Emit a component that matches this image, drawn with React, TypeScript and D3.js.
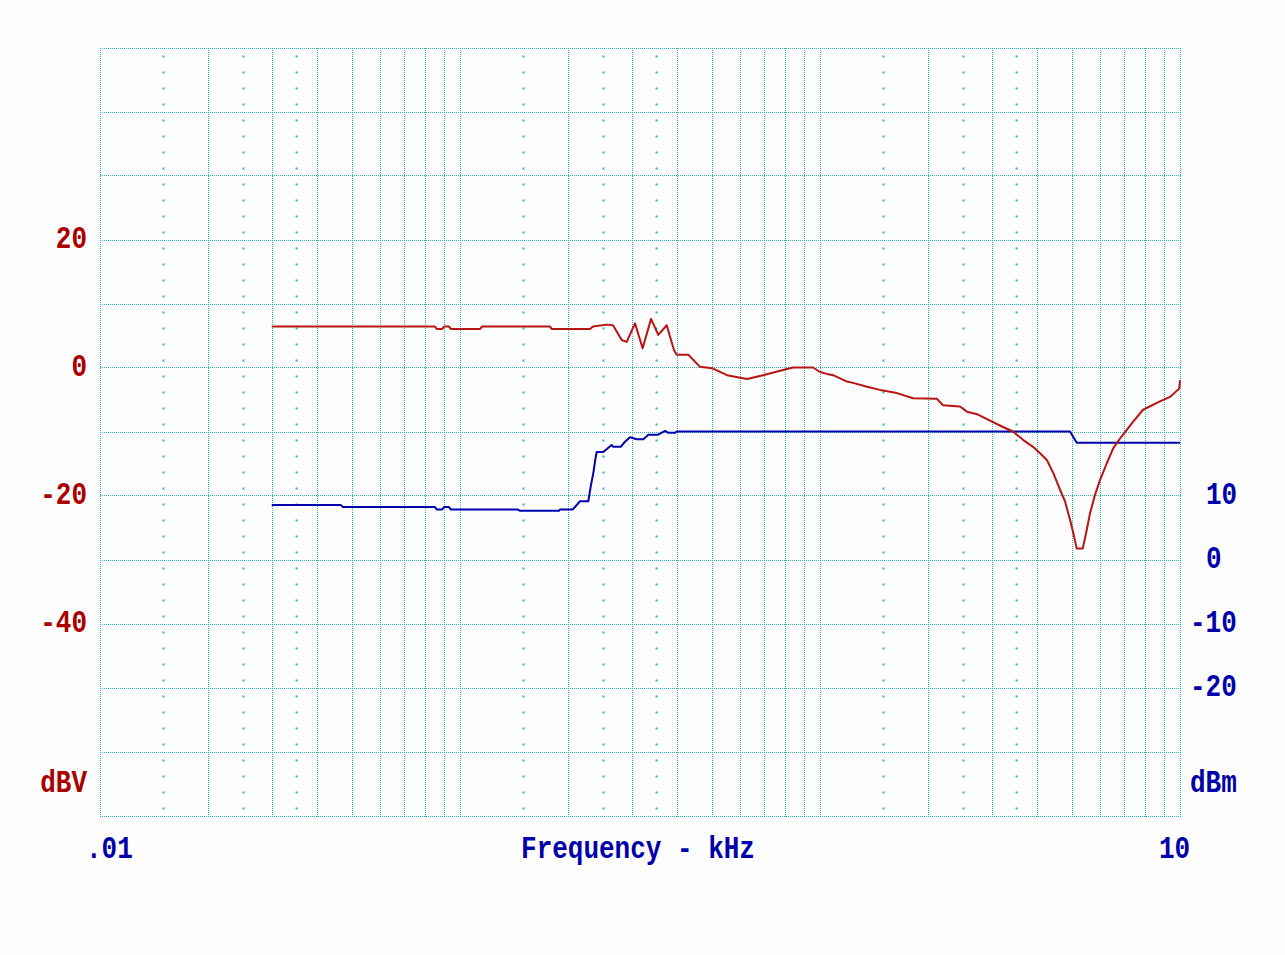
import React from "react";
import * as d3 from "d3";

// level trace, dBV (left axis)
const levelFreq = [
  0.03, 0.0852, 0.0863, 0.0891, 0.0903, 0.0932, 0.0944, 0.1136, 0.1151, 0.1778,
  0.18, 0.2297, 0.2341, 0.2561, 0.2661, 0.2813, 0.2904, 0.3063, 0.3216, 0.3394,
  0.3554, 0.3752, 0.3931, 0.3999, 0.4308, 0.4642, 0.5012, 0.5517, 0.627, 0.6945,
  0.7894, 0.8414, 0.9563, 1.0, 1.046, 1.087, 1.189, 1.235, 1.351, 1.468,
  1.636, 1.813, 2.113, 2.196, 2.448, 2.56, 2.73, 2.966, 3.223, 3.436,
  3.664, 3.906, 4.085, 4.272, 4.448, 4.642, 4.792, 4.949, 5.055, 5.167,
  5.368, 5.507, 5.623, 5.806, 5.995, 6.257, 6.527, 6.813, 7.403, 7.894,
  8.799, 9.382, 9.95, 10.0,
];
const levelDbv = [
  6.4, 6.4, 6.0, 6.0, 6.4, 6.4, 6.0, 6.0, 6.4, 6.4,
  6.0, 6.0, 6.4, 6.7, 6.6, 4.3, 4.0, 6.9, 3.0, 7.6,
  5.1, 6.6, 2.7, 2.0, 2.0, 0.1, -0.1, -1.2, -1.8, -1.2,
  -0.4, 0.0, 0.0, -0.7, -1.0, -1.2, -2.2, -2.4, -3.0, -3.5,
  -4.0, -4.8, -4.9, -5.9, -6.1, -6.9, -7.3, -8.3, -9.3, -10.0,
  -11.3, -12.4, -13.4, -14.5, -16.5, -19.1, -20.9, -23.8, -25.9, -28.3,
  -28.3, -25.4, -22.8, -19.9, -17.6, -15.0, -12.6, -11.1, -8.5, -6.6,
  -5.3, -4.6, -3.3, -2.0,
];

// second trace, dBm (right axis)
const powerFreq = [
  0.03, 0.0467, 0.0473, 0.0852, 0.0863, 0.0891, 0.0903, 0.0932, 0.0944, 0.1449,
  0.1468, 0.1884, 0.1895, 0.2055, 0.2154, 0.2272, 0.2307, 0.2346, 0.2371, 0.2397,
  0.25, 0.2638, 0.2667, 0.2795, 0.2873, 0.2966, 0.3095, 0.3231, 0.3336, 0.3554,
  0.3711, 0.3791, 0.3956, 0.3999, 4.949, 5.167, 10.0,
];
const powerDbm = [
  8.5, 8.5, 8.2, 8.2, 7.8, 7.8, 8.2, 8.2, 7.8, 7.8,
  7.6, 7.6, 7.8, 7.8, 9.1, 9.1, 11.4, 13.5, 15.3, 16.8,
  16.8, 17.9, 17.6, 17.6, 18.4, 19.1, 18.8, 18.8, 19.5, 19.5,
  20.1, 19.8, 19.8, 20.0, 20.0, 18.25, 18.25,
];

const leftTicks = [20, 0, -20, -40];
const rightTicks = [10, 0, -10, -20];
const decades = [0.01, 0.1, 1];
const fullMults = [1, 2, 3, 4, 5, 6, 7, 8, 9];
const sparseMults = [1.5, 2.5, 3.5];

const GRID = "#2ab4b4";
const RED = "#aa0000";
const BLUE = "#0000aa";
const FONT = "'Liberation Mono', 'Courier New', monospace";
const CH = 16; // character cell width

function Label({ x, y, text, fill, anchor = "start" }:
  { x: number; y: number; text: string; fill: string; anchor?: "start" | "middle" | "end" }) {
  return (
    <text
      transform={`translate(${x},${y}) scale(1,1.2)`}
      textAnchor={anchor}
      dominantBaseline="central"
      fill={fill}
      style={{ fontFamily: FONT, fontWeight: 700, fontSize: 26 }}
    >
      {text}
    </text>
  );
}

export default function App() {
  const W = 1285;
  const H = 955;
  const left = 100, right = 1180, top = 47.5, bottom = 815.5;

  const x = d3.scaleLog().domain([0.01, 10]).range([left, right]);
  const yL = d3.scaleLinear().domain([-70, 50]).range([bottom, top]);
  const yR = d3.scaleLinear().domain([-40, 80]).range([bottom, top]);

  const px = (v: number) => Math.round(v) + 0.5;

  const fullLines: number[] = [];
  decades.forEach(d => fullMults.forEach(m => fullLines.push(d * m)));
  fullLines.push(10);
  const sparseLines: number[] = [];
  decades.forEach(d => sparseMults.forEach(m => sparseLines.push(d * m)));

  const hTicks = d3.range(-70, 51, 10);
  const dotYs = d3.range(top + 8, bottom, 16);

  const lineL = d3.line<number>()
    .x((_, i) => x(levelFreq[i]))
    .y(d => yL(d));
  const lineR = d3.line<number>()
    .x((_, i) => x(powerFreq[i]))
    .y(d => yR(d));

  // right-hand labels sit in a 3-char field, "0" in the middle cell
  const rightLabelX = (t: number) => 1190 + (t >= 0 ? 1 : 0) * CH;

  return (
    <svg width={W} height={H} style={{ position: "absolute", left: 0, top: 0, background: "#fdfdfd" }}>
      <g shapeRendering="crispEdges" stroke={GRID} strokeWidth={1} strokeDasharray="1,1">
        {hTicks.map(t => (
          <line key={"h" + t} x1={left} x2={right + 1} y1={px(yL(t))} y2={px(yL(t))} />
        ))}
        {fullLines.map(f => (
          <line key={"v" + f} x1={px(x(f))} x2={px(x(f))} y1={top} y2={bottom + 1} />
        ))}
      </g>
      <g fill={GRID}>
        {sparseLines.map(f =>
          dotYs.map(yy => (
            <rect key={"s" + f + "-" + yy} x={Math.round(x(f)) - 0.5} y={Math.round(yy) - 0.5} width={2} height={2} />
          ))
        )}
      </g>

      <path d={lineR(powerDbm) || ""} fill="none" stroke="#0000b0" strokeWidth={2} strokeLinejoin="round" />
      <path d={lineL(levelDbv) || ""} fill="none" stroke="#b81414" strokeWidth={2} strokeLinejoin="round" />

      {leftTicks.map(t => (
        <Label key={"l" + t} x={87} y={yL(t)} text={String(t)} fill={RED} anchor="end" />
      ))}
      <Label x={87} y={784} text="dBV" fill={RED} anchor="end" />

      {rightTicks.map(t => (
        <Label key={"r" + t} x={rightLabelX(t)} y={yR(t)} text={String(t)} fill={BLUE} />
      ))}
      <Label x={1190} y={784} text="dBm" fill={BLUE} />
      <Label x={86} y={850} text=".01" fill={BLUE} />
      <Label x={638} y={850} text="Frequency - kHz" fill={BLUE} anchor="middle" />
      <Label x={1159} y={850} text="10" fill={BLUE} />
    </svg>
  );
}
